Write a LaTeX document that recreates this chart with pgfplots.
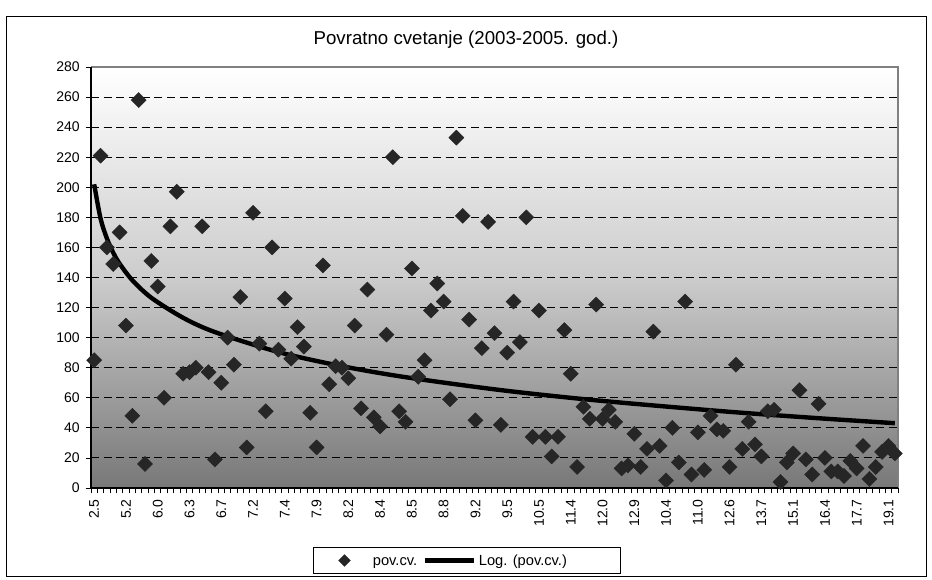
\documentclass[border=0pt]{standalone}
\usepackage{pgfplots}
\pgfplotsset{compat=1.18}
\usepackage{pgfplotstable}
\usepackage{fontspec}
\setmainfont{Liberation Sans}

% category index, value (pov.cv.)
\pgfplotstableread{
i v
0 85
1 221
2 160
3 149
4 170
5 108
6 48
7 258
8 16
9 151
10 134
11 60
12 174
13 197
14 76
15 77
16 80
17 174
18 77
19 19
20 70
21 100
22 82
23 127
24 27
25 183
26 96
27 51
28 160
29 92
30 126
31 86
32 107
33 94
34 50
35 27
36 148
37 69
38 81
39 80
40 73
41 108
42 53
43 132
44 47
45 41
46 102
47 220
48 51
49 44
50 146
51 74
52 85
53 118
54 136
55 124
56 59
57 233
58 181
59 112
60 45
61 93
62 177
63 103
64 42
65 90
66 124
67 97
68 180
69 34
70 118
71 34
72 21
73 34
74 105
75 76
76 14
77 54
78 46
79 122
80 46
81 52
82 44
83 13
84 15
85 36
86 14
87 26
88 104
89 28
90 5
91 40
92 17
93 124
94 9
95 37
96 12
97 48
98 39
99 38
100 14
101 82
102 26
103 44
104 29
105 21
106 51
107 52
108 4
109 17
110 23
111 65
112 19
113 9
114 56
115 20
116 11
117 11
118 8
119 18
120 13
121 28
122 6
123 14
124 24
125 28
126 23
}\povcv

% logarithmic trend line
\pgfplotstableread{
i v
0 202
1 179.3
2 166.0
3 156.5
4 149.2
6 138.2
9 126.5
14 113.2
19 103.7
29 90.4
39 81.0
49 73.7
64 65.1
79 58.3
99 51.0
114 46.4
126 43.1
}\trend

\definecolor{markgray}{HTML}{262626}
\pgfplotsset{
  trendleg/.style={legend image code/.code={\draw[##1] (0pt,0pt) -- (37pt,0pt);}},
  markleg/.style={legend image code/.code={\path (0pt,0pt) (42pt,0pt);
      \draw[##1, mark size=3.1pt] plot coordinates {(23pt,0pt)};}},
}

\begin{document}
\begin{tikzpicture}
\begin{axis}[
    scale only axis,
    width=605.25pt, height=315.75pt,
    xmin=-0.5, xmax=126.5,
    ymin=0, ymax=280,
    ytick={0,20,...,280},
    xtick={0,5,...,125},
    xticklabels={2.5,5.2,6.0,6.3,6.7,7.2,7.4,7.9,8.2,8.4,8.5,8.8,9.2,9.5,10.5,11.4,12.0,12.9,10.4,11.0,12.6,13.7,15.1,16.4,17.7,19.1},
    minor xtick={-0.5,0.5,...,126.5},
    tick pos=left,
    major x tick style={draw=none},
    minor x tick style={black, line width=0.6pt},
    tick align=outside,
    minor tick length=4pt,
    major tick length=4pt,
    y tick style={black, line width=0.6pt},
    ymajorgrids,
    major grid style={black, line width=0.7pt, dash pattern=on 6pt off 3.5pt},
    axis line style={draw=none},
    axis background/.style={shade, top color=white, bottom color=black!53, middle color=black!20},
    tick label style={font=\fontsize{10.5}{12}\selectfont},
    /pgf/number format/assume math mode=true,
    xticklabel style={rotate=90, anchor=east, xshift=-1pt},
    yticklabel style={xshift=-1pt},
    clip=false,
    legend columns=2,
    legend style={at={(axis description cs:0.2751,-0.1722)}, anchor=west,
        draw=black, line width=0.6pt, fill=white,
        inner xsep=0pt, inner ysep=2.5pt,
        font=\fontsize{11}{13}\selectfont,
        /tikz/every even column/.append style={column sep=2pt}},
]
\addplot[only marks, mark=square*, mark size=4pt, markleg,
    mark options={rotate=45, fill=markgray, draw=markgray, line width=0.3pt}]
    table[x=i, y=v] {\povcv};
\addlegendentry{\strut pov.cv.}
\addplot[black, line width=3.3pt, smooth, trendleg]
    table[x=i, y=v] {\trend};
\addlegendentry{\strut Log. (pov.cv.)\hspace*{38pt}}
\draw[black!50, line width=1.5pt] (rel axis cs:0,1) -- (rel axis cs:1,1) -- (rel axis cs:1,0);
\draw[black, line width=1pt] (rel axis cs:0,1) -- (rel axis cs:0,0) -- (rel axis cs:1,0);
\end{axis}
\begin{scope}[shift={(-68.25pt,366pt)}, x=0.75pt, y=-0.75pt]
\path[use as bounding box] (0,0) rectangle (932,580);
\draw[black, line width=0.75pt] (7,17) rectangle (926,577);
\node[font=\fontsize{14}{16}\selectfont] at (466,40) {Povratno cvetanje (2003-2005. god.)};
\end{scope}
\end{tikzpicture}
\end{document}
